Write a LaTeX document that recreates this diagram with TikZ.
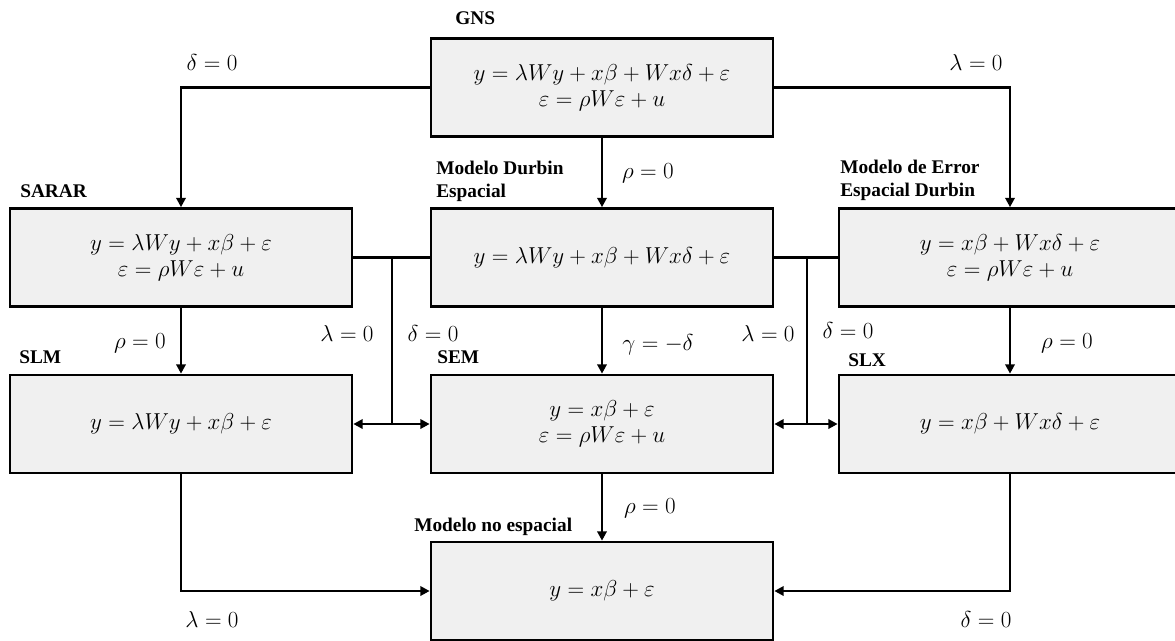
\documentclass[tikz,border=0pt]{standalone}
\usepackage{fontspec}
\setmainfont{Liberation Serif}
\newfontfamily\titlefont{Liberation Serif}
\usetikzlibrary{arrows.meta}
\definecolor{boxgray}{HTML}{F0F0F0}
\begin{document}
\begin{tikzpicture}[x=0.75pt,y=-0.75pt,
  mbox/.style={draw, line width=2pt, fill=boxgray, minimum width=256.5pt, minimum height=73.5pt, inner sep=0pt, align=center, font=\fontsize{17.28}{19.5}\selectfont},
  conn/.style={line width=1.8pt},
  arr/.style={conn, -{Triangle[length=7pt,width=7pt]}},
  ttl/.style={font=\titlefont\fontsize{14.5}{17.5}\selectfont\bfseries, align=left, inner sep=0pt, anchor=west},
  lbl/.style={font=\fontsize{17.28}{19.5}\selectfont, inner sep=0pt}]
\useasboundingbox (0,0) rectangle (1175,640);

% boxes
\node[mbox] (gns)   at (602,87.5)  {$y = \lambda W y + x\beta + W x\delta + \varepsilon$\\$\varepsilon = \rho W \varepsilon + u$};
\node[mbox] (sarar) at (181,257.5) {$y = \lambda W y + x\beta + \varepsilon$\\$\varepsilon = \rho W \varepsilon + u$};
\node[mbox] (sdm)   at (602,257.5) {$y = \lambda W y + x\beta + W x\delta + \varepsilon$};
\node[mbox] (sdem)  at (1010,257.5) {$y = x\beta + W x\delta + \varepsilon$\\$\varepsilon = \rho W \varepsilon + u$};
\node[mbox] (slm)   at (181,424)   {$y = \lambda W y + x\beta + \varepsilon$};
\node[mbox] (sem)   at (602,424)   {$y = x\beta + \varepsilon$\\$\varepsilon = \rho W \varepsilon + u$};
\node[mbox] (slx)   at (1010,424)  {$y = x\beta + W x\delta + \varepsilon$};
\node[mbox] (ns)    at (602,591)   {$y = x\beta + \varepsilon$};

% titles
\node[ttl] (tgns)   at (455,18)  {GNS};
\node[ttl] (tsarar) at (20,191)  {SARAR};
\node[ttl] (tsdm)   at (436,181.5) {Modelo Durbin\\Espacial};
\node[ttl] (tsdem)  at (840,180.5) {Modelo de Error\\Espacial Durbin};
\node[ttl] (tslm)   at (19,357)  {SLM};
\node[ttl] (tsem)   at (437,357) {SEM};
\node[ttl] (tslx)   at (848,360) {SLX};
\node[ttl] (tns)    at (414,527) {Modelo no espacial};

% junction coordinates
\coordinate (jl)  at (392,257.5);
\coordinate (jlb) at (392,424);
\coordinate (jr)  at (807,257.5);
\coordinate (jrb) at (807,424);

% connectors
\draw[arr] (gns.west) -| (sarar.north);
\draw[arr] (gns.east) -| (sdem.north);
\draw[arr] (gns.south) -- (sdm.north);
\draw[conn] (sarar.east) -- (sdm.west);
\draw[conn] (jl) -- (jlb);
\draw[arr] (jlb) -- (slm.east);
\draw[arr] (jlb) -- (sem.west);
\draw[conn] (sdm.east) -- (sdem.west);
\draw[conn] (jr) -- (jrb);
\draw[arr] (jrb) -- (sem.east);
\draw[arr] (jrb) -- (slx.west);
\draw[arr] (sarar.south) -- (slm.north);
\draw[arr] (sdm.south) -- (sem.north);
\draw[arr] (sdem.south) -- (slx.north);
\draw[arr] (sem.south) -- (ns.north);
\draw[arr] (slm.south) |- (ns.west);
\draw[arr] (slx.south) |- (ns.east);

% labels
\node[lbl] (l1)  at (212,62)  {$\delta = 0$};
\node[lbl] (l2)  at (976,62)  {$\lambda = 0$};
\node[lbl] (l3)  at (648,173) {$\rho = 0$};
\node[lbl] (l4)  at (347,333) {$\lambda = 0$};
\node[lbl] (l5)  at (433,333) {$\delta = 0$};
\node[lbl] (l6)  at (768,333) {$\lambda = 0$};
\node[lbl] (l7)  at (848,330) {$\delta = 0$};
\node[lbl] (l8)  at (140,343) {$\rho = 0$};
\node[lbl] (l9)  at (658,345) {$\gamma = -\delta$};
\node[lbl] (l10) at (1067,343) {$\rho = 0$};
\node[lbl] (l11) at (650,508) {$\rho = 0$};
\node[lbl] (l12) at (212,619) {$\lambda = 0$};
\node[lbl] (l13) at (986,619) {$\delta = 0$};
\end{tikzpicture}
\end{document}
